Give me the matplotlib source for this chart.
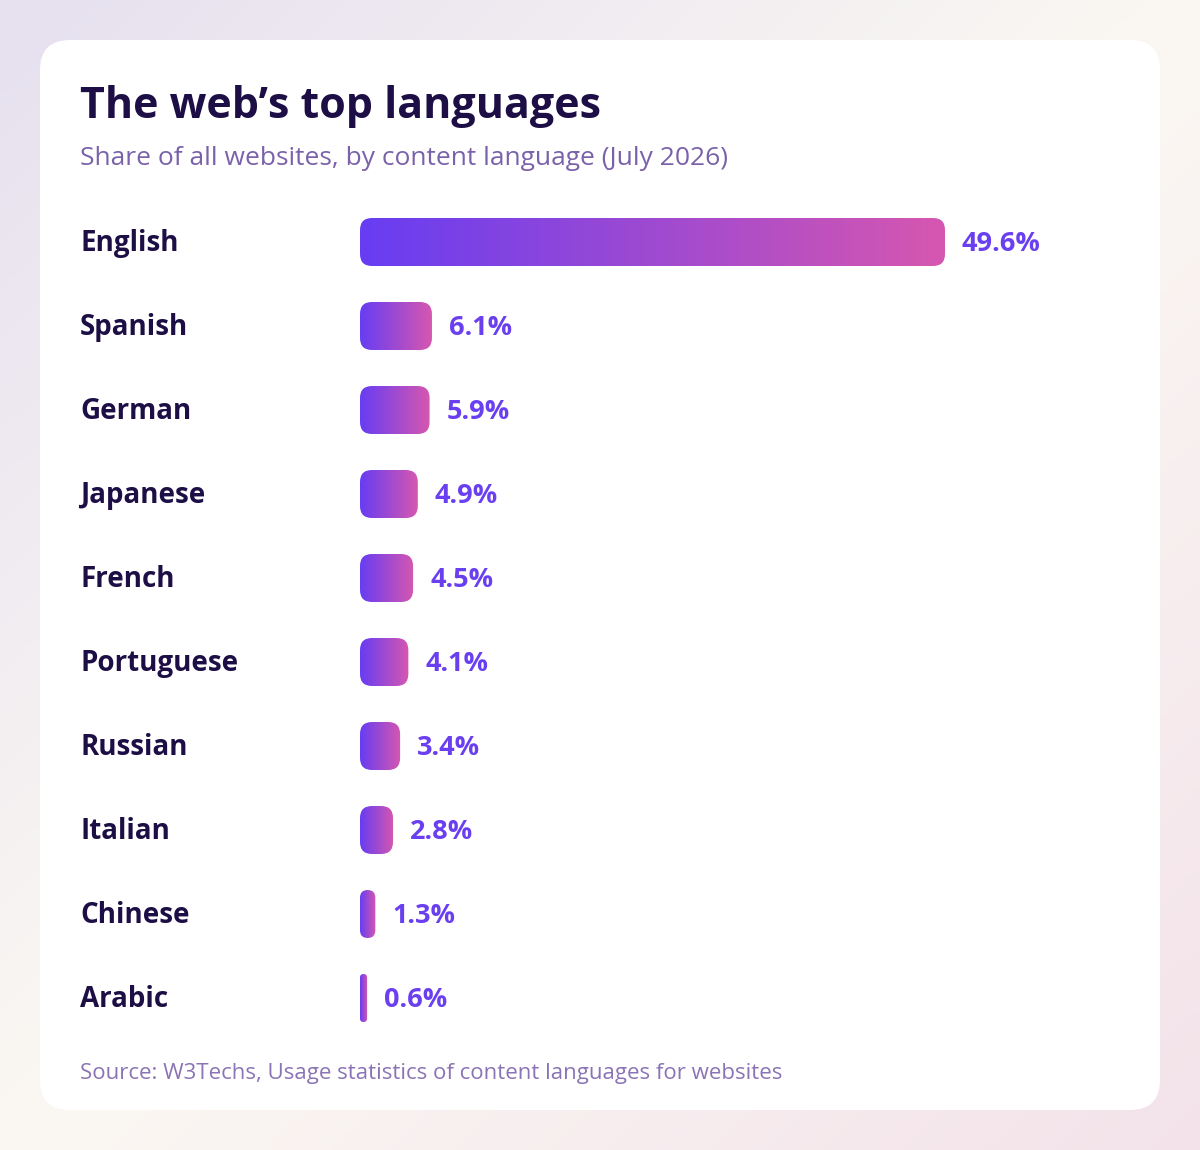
import numpy as np
import matplotlib.pyplot as plt
from matplotlib.patches import FancyBboxPatch
from matplotlib.colors import LinearSegmentedColormap, to_rgb

languages = ["English", "Spanish", "German", "Japanese", "French",
             "Portuguese", "Russian", "Italian", "Chinese", "Arabic"]
shares = [49.6, 6.1, 5.9, 4.9, 4.5, 4.1, 3.4, 2.8, 1.3, 0.6]

title = "The web\u2019s top languages"
subtitle = "Share of all websites, by content language (July 2026)"
source = "Source: W3Techs, Usage statistics of content languages for websites"

plt.rcParams['font.family'] = ['Open Sans', 'DejaVu Sans']

W, H = 1200, 1150
fig = plt.figure(figsize=(12, 11.5), dpi=100)

# background axes in pixel units
bg = fig.add_axes([0, 0, 1, 1])
bg.set_xlim(0, W)
bg.set_ylim(H, 0)
bg.axis('off')

yy, xx = np.mgrid[0:H:2, 0:W:2]
t = (xx / W + yy / H) / 2
c0 = np.array(to_rgb('#e6e0ef'))
c1 = np.array(to_rgb('#fbf8f3'))
c2 = np.array(to_rgb('#f3e2ea'))
a = np.clip(t * 2, 0, 1)[..., None]
b = np.clip(t * 2 - 1, 0, 1)[..., None]
img = np.where(t[..., None] < 0.5, c0 + (c1 - c0) * a, c1 + (c2 - c1) * b)
bg.imshow(img, extent=(0, W, H, 0), aspect='auto', zorder=0)
bg.set_xlim(0, W)
bg.set_ylim(H, 0)

card = FancyBboxPatch((40, 40), 1120, 1070, boxstyle='round,pad=0,rounding_size=30',
                      fc='white', ec='none', zorder=1)
bg.add_patch(card)

bg.text(80, 118, title, fontsize=31, fontweight='bold', color='#1d0f45',
        va='baseline', ha='left', zorder=2)
bg.text(80, 165, subtitle, fontsize=19, color='#7a62aa',
        va='baseline', ha='left', zorder=2)
bg.text(80, 1079, source, fontsize=16, color='#8a74b5',
        va='baseline', ha='left', zorder=2)

# bar axes: 360px..1160px wide, rows of 84px from y=200
left_px, width_px = 360, 800
top_px, height_px = 200, 840
ax = fig.add_axes([left_px / W, (H - top_px - height_px) / H, width_px / W, height_px / H])
xmax = 49.6 * width_px / 585
n = len(languages)
px_x = xmax / width_px
px_y = n / height_px
bar_h = 48 * px_y

cmap = LinearSegmentedColormap.from_list('bar', ['#673df2', '#d657b0'])
grad = np.linspace(0, 1, 256)[None, :]

for i, (lang, v) in enumerate(zip(languages, shares)):
    w_px = v / px_x
    r_px = min(12, w_px / 2)
    patch = FancyBboxPatch((0, i - bar_h / 2), v, bar_h,
                           boxstyle=f'round,pad=0,rounding_size={r_px * px_x}',
                           mutation_aspect=px_y / px_x, fc='none', ec='none')
    ax.add_patch(patch)
    im = ax.imshow(grad, extent=(0, v, i + bar_h / 2, i - bar_h / 2), cmap=cmap,
                   aspect='auto', interpolation='bilinear')
    im.set_clip_path(patch)
    ax.text(v + 17 * px_x, i + 9 * px_y, f"{v}%", fontsize=19.5, fontweight='bold',
            color='#6a3ff0', va='baseline', ha='left')
    ax.text(-280 / width_px, i + 9 * px_y, lang, transform=ax.get_yaxis_transform(),
            fontsize=20, fontweight='bold', color='#1d0f45', va='baseline', ha='left')

ax.set_xlim(0, xmax)
ax.set_ylim(n - 0.5, -0.5)
ax.axis('off')

fig.savefig('out.png', dpi=100)
